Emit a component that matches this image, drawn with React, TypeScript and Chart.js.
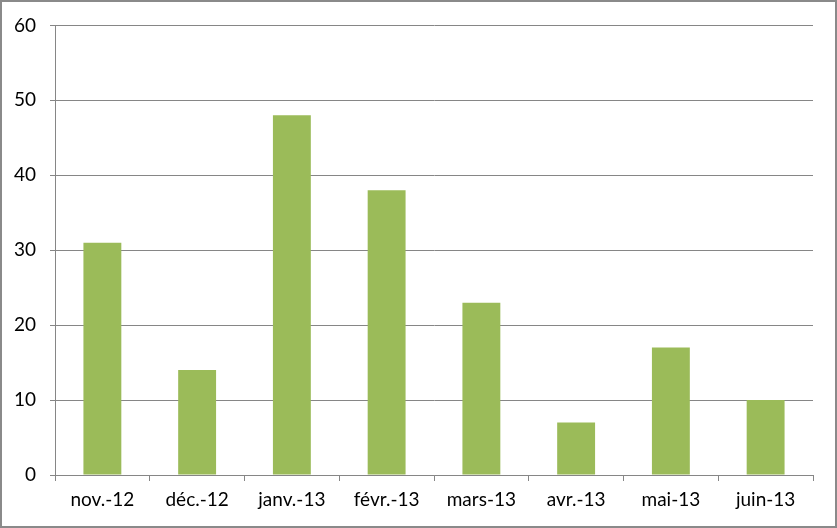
import React, { useEffect, useRef } from "react";
import { Chart, registerables } from "chart.js";

Chart.register(...registerables);

const categories = ["nov.-12", "déc.-12", "janv.-13", "févr.-13", "mars-13", "avr.-13", "mai-13", "juin-13"];
const values = [31, 14, 48, 38, 23, 7, 17, 10];
const yMin = 0;
const yMax = 60;
const yStep = 10;

const FONT = "Lato";

const borderPlugin = {
  id: "outerBorder",
  afterDraw(chart: any) {
    const ctx = chart.ctx;
    ctx.save();
    ctx.strokeStyle = "#8a8a8a";
    ctx.lineWidth = 2;
    ctx.strokeRect(1, 1, chart.width - 2, chart.height - 2);
    ctx.restore();
  },
};

export default function App() {
  const ref = useRef<HTMLCanvasElement>(null);
  useEffect(() => {
    document.body.style.margin = "0";
    const chart = new Chart(ref.current!, {
      type: "bar",
      data: {
        labels: categories,
        datasets: [
          {
            data: values,
            backgroundColor: "#9bbb59",
            borderWidth: 0,
            categoryPercentage: 1,
            barPercentage: 0.4,
          },
        ],
      },
      options: {
        responsive: true,
        maintainAspectRatio: false,
        animation: false,
        layout: { padding: { top: 24, right: 24, left: 0, bottom: 0 } },
        plugins: {
          legend: { display: false },
          tooltip: { enabled: false },
        },
        scales: {
          x: {
            afterFit(scale: any) {
              scale.height = 53;
            },
            grid: {
              display: true,
              drawOnChartArea: false,
              drawTicks: true,
              tickLength: 6,
              color: "#868686",
              offset: true,
            },
            border: { display: true, color: "#868686", width: 1 },
            ticks: {
              color: "#000",
              font: { family: FONT, size: 19 },
              padding: 7,
              maxRotation: 0,
              autoSkip: false,
            },
          },
          y: {
            min: yMin,
            max: yMax,
            afterFit(scale: any) {
              scale.width = 55;
            },
            grid: {
              color: "#868686",
              tickLength: 5,
              drawTicks: true,
            },
            border: { display: true, color: "#868686", width: 1 },
            ticks: {
              stepSize: yStep,
              color: "#000",
              font: { family: FONT, size: 19 },
              padding: 14,
            },
          },
        },
      },
      plugins: [borderPlugin],
    });
    return () => chart.destroy();
  }, []);
  return (
    <div style={{ width: 837, height: 528, position: "relative" }}>
      <canvas ref={ref} />
    </div>
  );
}
